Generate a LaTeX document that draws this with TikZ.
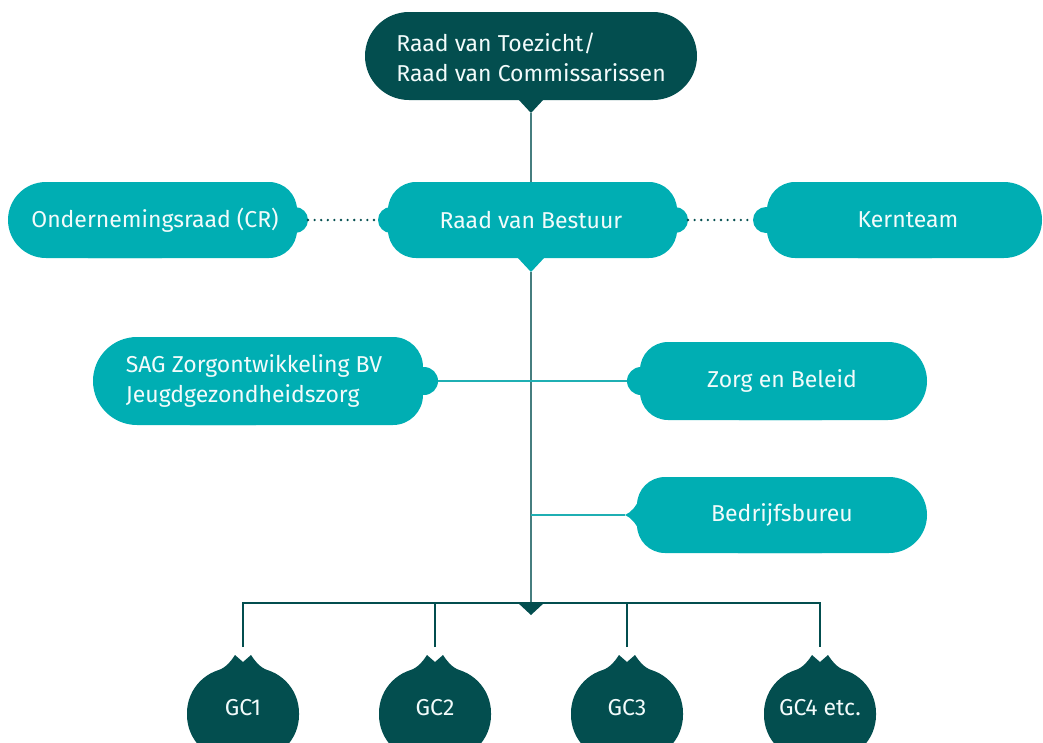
\documentclass[tikz,border=0pt]{standalone}
\usepackage{fontspec}
\setmainfont{Fira Sans}
\definecolor{dark}{HTML}{034E4F}
\definecolor{lteal}{HTML}{00AEB3}
\definecolor{spinec}{HTML}{467E7F}
\definecolor{branchc}{HTML}{1FAFB3}
\definecolor{txt}{HTML}{F2FBFB}
\begin{document}
\begin{tikzpicture}[x=1pt,y=-1pt,
  lbl/.style={text=txt, font=\fontsize{23}{30}\selectfont, inner sep=0pt, align=left},
  spineline/.style={draw=spinec, line width=2.2pt},
  branch/.style={draw=branchc, line width=1.6pt},
  bus/.style={draw=dark, line width=2pt},
  dots/.style={draw=dark, line width=2.6pt, line cap=round, dash pattern=on 0pt off 6.6pt},
  lfill/.style={fill=lteal},
  dfill/.style={fill=dark}
]
\useasboundingbox (0,0) rectangle (1043,742);
\clip (0,0) rectangle (1043,742);

% ---------- top node ----------
\fill[dfill, rounded corners=44] (365,12) rectangle (697,100);
\fill[dfill] (518,99) -- (544,99) -- (531,113) -- cycle;
\coordinate (rvtTip) at (531,113);
\node[lbl] (rvt) at (531,57) {Raad van Toezicht/\\Raad van Commissarissen};

% ---------- Raad van Bestuur ----------
\fill[lfill, rounded corners=28] (388,182) rectangle (677,258);
\fill[lfill] (391,220) circle[radius=13];
\fill[lfill] (675,220) circle[radius=13];
\fill[lfill] (517,257) -- (545,257) -- (531,272) -- cycle;
\coordinate (rvbTop) at (531,182);
\coordinate (rvbTip) at (531,272);
\coordinate (rvbL) at (378,220);
\coordinate (rvbR) at (688,220);
\node[lbl] (rvb) at (531,220) {Raad van Bestuur};

% ---------- Ondernemingsraad ----------
\fill[lfill, rounded corners=38] (8,182) rectangle (200,258);
\fill[lfill, rounded corners=28] (60,182) rectangle (297,258);
\fill[lfill] (295,220) circle[radius=13];
\coordinate (orR) at (308,220);
\node[lbl] (or) at (155,220) {Ondernemingsraad (CR)};

% ---------- Kernteam ----------
\fill[lfill, rounded corners=28] (767,182) rectangle (960,258);
\fill[lfill, rounded corners=38] (820,182) rectangle (1042,258);
\fill[lfill] (766,220) circle[radius=13];
\coordinate (ktL) at (753,220);
\node[lbl] (kt) at (908,220) {Kernteam};

% ---------- SAG ----------
\fill[lfill, rounded corners=44] (93,337) rectangle (300,425);
\fill[lfill, rounded corners=30] (160,337) rectangle (423,425);
\fill[lfill] (424,381) circle[radius=14];
\coordinate (sagR) at (438,381);
\node[lbl] (sag) at (254,381) {SAG Zorgontwikkeling BV\\Jeugdgezondheidszorg};

% ---------- Zorg en Beleid ----------
\fill[lfill, rounded corners=28] (640,342) rectangle (850,420);
\fill[lfill, rounded corners=39] (700,342) rectangle (927,420);
\fill[lfill] (641,381) circle[radius=14];
\coordinate (zbL) at (627,381);
\node[lbl] (zb) at (782,381) {Zorg en Beleid};

% ---------- Bedrijfsbureu ----------
\fill[lfill, rounded corners=28] (637,477) rectangle (850,553);
\fill[lfill, rounded corners=38] (700,477) rectangle (927,553);
\fill[lfill] (625,515) .. controls (632,512) and (636,506) .. (640,498) -- (640,532) .. controls (636,524) and (632,518) .. (625,515) -- cycle;
\coordinate (bbL) at (625,515);
\node[lbl] (bb) at (782,515) {Bedrijfsbureu};

% ---------- connectors ----------
\coordinate (busTop) at (531,603);
\coordinate (spineB) at (531,515);
\draw[spineline] (rvtTip) -- (rvbTop);
\draw[spineline] (rvbTip) -- (busTop);
\draw[branch] (sagR) -- (zbL);
\draw[branch] (spineB) -- (bbL);
\draw[dots] (orR) -- (rvbL);
\draw[dots] (rvbR) -- (ktL);

% ---------- bus ----------
\coordinate (busL) at (243,603);
\coordinate (busR) at (820,603);
\coordinate (c1) at (243,647);
\coordinate (c2) at (435,647);
\coordinate (c3) at (627,647);
\coordinate (c4) at (820,647);
\draw[bus] (c1) -- (busL) -- (busR) -- (c4);
\draw[bus] (c2) -- (c2 |- busL);
\draw[bus] (c3) -- (c3 |- busL);
\fill[dfill] (517,602) -- (545,602) -- (531,615) -- cycle;

% ---------- GC blobs ----------
\foreach \cx/\nm/\t in {243/gc1/GC1, 435/gc2/GC2, 627/gc3/GC3, 820/gc4/GC4 etc.}{
  \fill[dfill, rounded corners=45] (\cx-56,668) rectangle (\cx+56,760);
  \fill[dfill] (\cx-26,671) .. controls (\cx-16,667) and (\cx-12,661) .. (\cx-8,655)
     -- (\cx,662) -- (\cx+8,655) .. controls (\cx+12,661) and (\cx+16,667) .. (\cx+26,671) -- cycle;
  \node[lbl] (\nm) at (\cx,708) {\t};
}
\end{tikzpicture}
\end{document}
